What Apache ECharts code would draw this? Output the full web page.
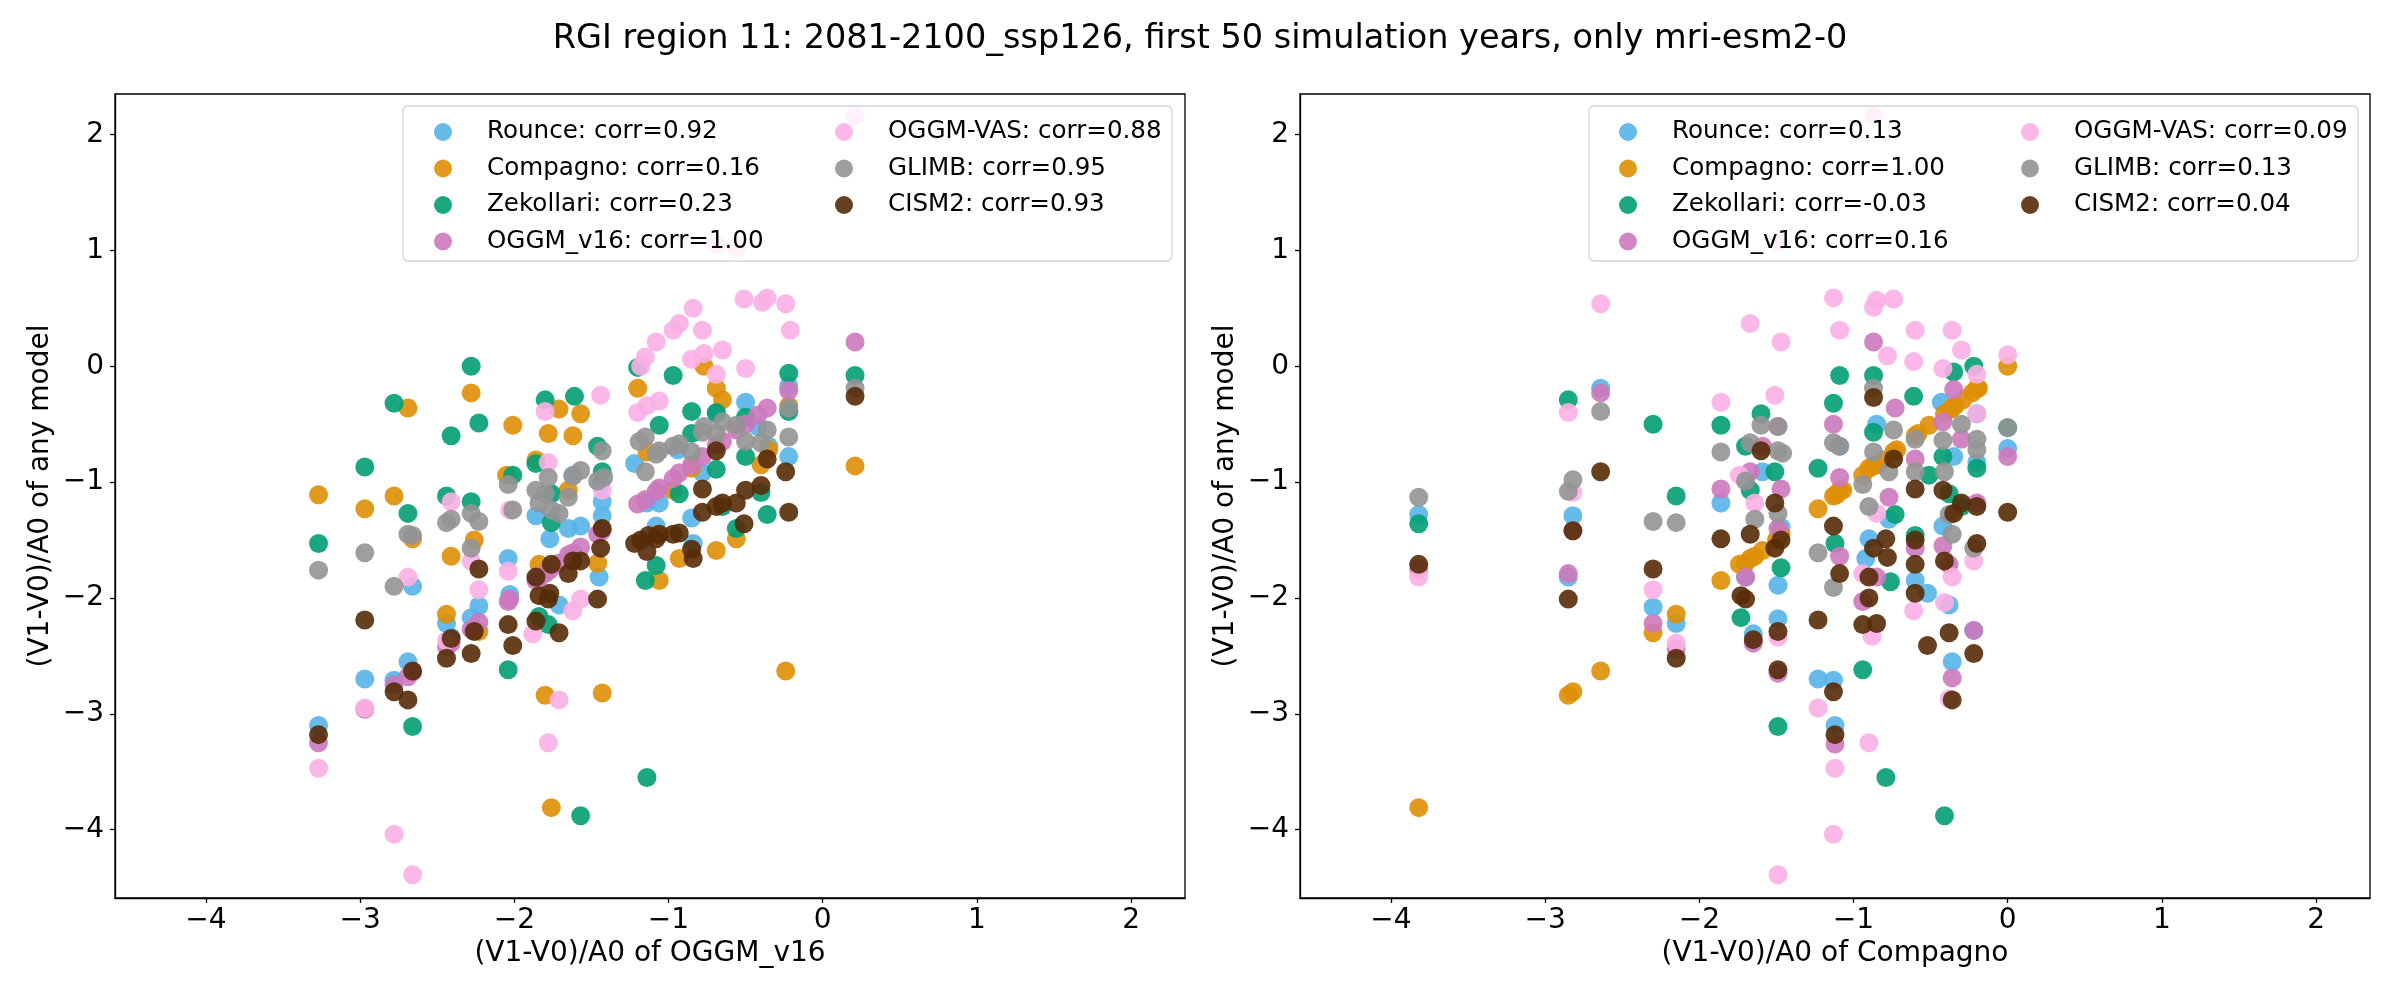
<!DOCTYPE html>
<html>
<head>
<meta charset="utf-8">
<title>RGI region 11</title>
<script src="https://cdn.jsdelivr.net/npm/echarts@6/dist/echarts.min.js"></script>
<style>
  html, body { margin: 0; padding: 0; background: #fff; }
  #chart { width: 2400px; height: 1000px; }
</style>
</head>
<body>
<div id="chart"></div>
<script>
// model names, colours and legend labels (left = vs OGGM_v16, right = vs Compagno)
var models = ["Rounce", "Compagno", "Zekollari", "OGGM_v16", "OGGM-VAS", "GLIMB", "CISM2"];
var colors = ["#56b4e9", "#de8f05", "#029e73", "#cc78bc", "#fbafe4", "#949494", "#562b08"];
var corrLeft = ["0.92", "0.16", "0.23", "1.00", "0.88", "0.95", "0.93"];
var corrRight = ["0.13", "1.00", "-0.03", "0.16", "0.09", "0.13", "0.04"];
var tickValues = [-4, -3, -2, -1, 0, 1, 2];

// left panel: x = (V1-V0)/A0 of OGGM_v16
var leftRounce = [[-3.27,-3.10],[-2.97,-2.70],[-2.78,-2.71],[-2.69,-2.55],[-2.66,-1.90],[-2.44,-2.22],[-2.41,-2.34],
  [-2.28,-2.17],[-2.23,-2.07],[-2.04,-1.66],[-2.03,-1.97],[-1.86,-1.29],[-1.77,-1.49],[-1.71,-2.06],[-1.65,-1.40],
  [-1.62,-0.94],[-1.57,-1.38],[-1.44,-1.02],[-1.43,-1.17],[-1.43,-1.29],[-1.45,-1.82],[-1.22,-0.84],[-1.14,-1.18],
  [-1.08,-1.38],[-1.06,-1.18],[-0.94,-0.72],[-0.85,-1.31],[-0.84,-1.53],[-0.78,-0.92],[-0.69,-0.41],[-0.50,-0.31],
  [-0.42,-0.52],[-0.35,-0.69],[-0.22,-0.17],[-0.22,-0.78]];
var leftCompagno = [[-3.27,-1.11],[-2.97,-1.23],[-2.78,-1.12],[-2.69,-0.36],[-2.66,-1.49],[-2.44,-2.14],[-2.41,-1.64],
  [-2.28,-0.23],[-2.26,-1.50],[-2.23,-2.29],[-2.01,-0.51],[-2.05,-0.94],[-1.86,-0.81],[-1.84,-1.71],[-1.80,-2.84],
  [-1.78,-0.58],[-1.76,-3.81],[-1.71,-0.37],[-1.65,-1.07],[-1.62,-0.60],[-1.57,-0.41],[-1.46,-1.70],[-1.43,-2.82],
  [-1.20,-0.19],[-1.14,-0.74],[-1.07,-1.45],[-1.06,-1.85],[-0.93,-1.66],[-0.97,-1.07],[-0.85,-0.88],[-0.77,0.00],
  [-0.69,-0.19],[-0.65,-0.29],[-0.69,-1.59],[-0.56,-1.49],[-0.40,-0.85],[-0.35,-0.72],[-0.22,-0.34],[-0.24,-2.63],
  [0.21,-0.86]];
var leftZekollari = [[-3.27,-1.53],[-2.97,-0.87],[-2.78,-0.32],[-2.69,-1.27],[-2.66,-3.11],[-2.44,-1.12],[-2.41,-0.60],
  [-2.28,0.00],[-2.28,-1.17],[-2.23,-0.49],[-2.04,-2.62],[-2.01,-0.94],[-1.86,-0.84],[-1.84,-2.16],[-1.80,-0.29],
  [-1.78,-2.23],[-1.76,-1.35],[-1.76,-1.10],[-1.61,-0.26],[-1.57,-3.88],[-1.46,-0.69],[-1.43,-0.91],[-1.20,-0.01],
  [-1.15,-1.85],[-1.14,-3.55],[-1.08,-1.72],[-1.06,-0.51],[-0.97,-0.08],[-0.93,-1.10],[-0.85,-0.39],[-0.85,-0.58],
  [-0.69,-0.40],[-0.69,-0.89],[-0.65,-1.21],[-0.56,-1.40],[-0.50,-0.44],[-0.50,-0.78],[-0.40,-1.09],[-0.36,-1.28],
  [-0.22,-0.06],[-0.22,-0.39],[0.21,-0.08]];
var leftOggm = [[-3.27,-3.25],[-2.97,-2.96],[-2.78,-2.75],[-2.69,-2.68],[-2.66,-2.64],[-2.44,-2.42],[-2.41,-2.39],
  [-2.28,-2.27],[-2.23,-2.21],[-2.04,-2.03],[-2.03,-2.01],[-1.86,-1.85],[-1.84,-1.83],[-1.80,-1.79],[-1.77,-1.76],
  [-1.71,-1.70],[-1.65,-1.63],[-1.62,-1.61],[-1.57,-1.56],[-1.46,-1.45],[-1.43,-1.42],[-1.20,-1.19],[-1.15,-1.15],
  [-1.08,-1.08],[-1.06,-1.05],[-0.97,-0.97],[-0.93,-0.92],[-0.85,-0.85],[-0.78,-0.78],[-0.69,-0.68],[-0.65,-0.65],
  [-0.56,-0.55],[-0.50,-0.50],[-0.42,-0.42],[-0.36,-0.36],[-0.22,-0.21],[0.21,0.21]];
var leftVas = [[-3.27,-3.47],[-2.97,-2.95],[-2.78,-4.04],[-2.69,-1.82],[-2.66,-4.39],[-2.44,-2.37],[-2.41,-1.17],
  [-2.28,-1.68],[-2.23,-1.93],[-2.04,-1.77],[-2.03,-1.24],[-1.88,-2.31],[-1.80,-0.39],[-1.78,-0.83],[-1.78,-3.25],
  [-1.71,-2.88],[-1.62,-2.11],[-1.57,-2.01],[-1.44,-0.25],[-1.43,-1.07],[-1.20,-0.40],[-1.14,-0.34],[-1.15,0.08],
  [-1.18,0.00],[-1.08,0.21],[-1.06,-0.30],[-0.97,0.31],[-0.93,0.37],[-0.84,0.50],[-0.85,0.06],[-0.78,0.31],
  [-0.77,0.11],[-0.69,-0.07],[-0.65,0.14],[-0.69,1.05],[-0.56,1.02],[-0.51,0.58],[-0.50,-0.02],[-0.39,0.55],
  [-0.36,0.59],[-0.24,0.54],[-0.21,0.31],[0.21,2.16]];
var leftGlimb = [[-3.27,-1.76],[-2.97,-1.61],[-2.78,-1.90],[-2.69,-1.45],[-2.66,-1.46],[-2.44,-1.35],[-2.41,-1.32],
  [-2.28,-1.27],[-2.28,-1.57],[-2.23,-1.34],[-2.04,-1.02],[-2.01,-1.24],[-1.86,-1.07],[-1.84,-1.18],[-1.80,-1.10],
  [-1.78,-0.96],[-1.76,-1.24],[-1.71,-1.27],[-1.65,-1.13],[-1.62,-0.95],[-1.57,-0.90],[-1.46,-0.99],[-1.43,-0.73],
  [-1.42,-0.96],[-1.19,-0.65],[-1.15,-0.91],[-1.15,-0.61],[-1.08,-0.76],[-1.06,-0.73],[-0.97,-0.69],[-0.93,-0.67],
  [-0.85,-0.74],[-0.78,-0.57],[-0.77,-0.52],[-0.69,-0.58],[-0.65,-0.48],[-0.56,-0.51],[-0.50,-0.65],[-0.40,-0.66],
  [-0.36,-0.55],[-0.22,-0.36],[-0.22,-0.61],[0.21,-0.19]];
var leftCism = [[-3.27,-3.18],[-2.97,-2.19],[-2.78,-2.81],[-2.69,-2.88],[-2.66,-2.63],[-2.44,-2.52],[-2.41,-2.35],
  [-2.28,-2.48],[-2.26,-2.29],[-2.23,-1.75],[-2.04,-2.23],[-2.01,-2.41],[-1.86,-1.82],[-1.84,-1.98],[-1.86,-2.20],
  [-1.78,-2.01],[-1.77,-1.96],[-1.76,-1.71],[-1.71,-2.30],[-1.65,-1.79],[-1.62,-1.68],[-1.57,-1.68],[-1.46,-2.01],
  [-1.44,-1.57],[-1.43,-1.40],[-1.22,-1.53],[-1.18,-1.50],[-1.14,-1.60],[-1.13,-1.46],[-1.08,-1.49],[-1.06,-1.45],
  [-0.97,-1.45],[-0.93,-1.44],[-0.85,-1.58],[-0.84,-1.66],[-0.78,-1.06],[-0.78,-1.26],[-0.69,-0.73],[-0.69,-1.21],
  [-0.65,-1.18],[-0.56,-1.18],[-0.51,-1.36],[-0.50,-1.07],[-0.40,-1.03],[-0.36,-0.80],[-0.24,-0.91],[-0.22,-1.26],
  [0.21,-0.26]];

// right panel: x = (V1-V0)/A0 of Compagno
var rightRounce = [[-3.82,-1.28],[-2.82,-1.29],[-2.85,-1.82],[-2.64,-0.19],[-2.30,-2.08],[-2.15,-2.22],[-1.86,-1.18],
  [-1.70,-1.82],[-1.65,-2.31],[-1.59,-0.91],[-1.49,-1.89],[-1.49,-2.18],[-1.47,-1.39],[-1.23,-2.70],[-1.13,-2.71],
  [-1.12,-3.10],[-1.09,-0.69],[-0.92,-1.66],[-0.90,-1.49],[-0.85,-0.50],[-0.77,-1.32],[-0.60,-1.85],[-0.52,-1.96],
  [-0.43,-0.31],[-0.38,-2.06],[-0.36,-2.55],[-0.35,-0.78],[-0.42,-1.38],[-0.22,-2.28],[-0.20,-0.41],[-0.20,-0.83],
  [0.00,-0.71]];
var rightCompagno = [[-3.82,-3.81],[-2.85,-2.84],[-2.82,-2.81],[-2.64,-2.63],[-2.30,-2.30],[-2.15,-2.14],[-1.86,-1.85],
  [-1.74,-1.71],[-1.70,-1.70],[-1.67,-1.66],[-1.64,-1.64],[-1.59,-1.59],[-1.50,-1.50],[-1.49,-1.49],[-1.47,-1.45],
  [-1.23,-1.23],[-1.13,-1.12],[-1.11,-1.11],[-1.09,-1.07],[-1.07,-1.07],[-0.94,-0.94],[-0.90,-0.88],[-0.87,-0.86],
  [-0.85,-0.85],[-0.81,-0.81],[-0.74,-0.74],[-0.72,-0.72],[-0.60,-0.60],[-0.58,-0.58],[-0.51,-0.51],[-0.41,-0.41],
  [-0.37,-0.37],[-0.36,-0.36],[-0.34,-0.34],[-0.29,-0.29],[-0.23,-0.23],[-0.20,-0.19],[-0.19,-0.19],[0.00,0.00]];
var rightZekollari = [[-3.82,-1.36],[-2.85,-0.29],[-2.30,-0.50],[-2.15,-1.12],[-1.86,-0.51],[-1.73,-2.17],[-1.70,-0.69],
  [-1.67,-1.07],[-1.60,-0.41],[-1.51,-0.91],[-1.49,-3.11],[-1.47,-1.74],[-1.23,-0.88],[-1.13,-0.32],[-1.12,-1.53],
  [-1.09,-0.08],[-0.94,-2.62],[-0.87,-0.08],[-0.87,-0.57],[-0.79,-3.55],[-0.76,-1.86],[-0.73,-1.28],[-0.61,-0.26],
  [-0.60,-1.46],[-0.51,-0.94],[-0.42,-0.78],[-0.41,-3.88],[-0.38,-1.10],[-0.35,-0.05],[-0.30,-1.21],[-0.22,0.00],
  [-0.20,-0.88],[0.00,-0.53]];
var rightOggm = [[-3.82,-1.75],[-2.85,-1.79],[-2.82,-1.42],[-2.64,-0.23],[-2.30,-2.22],[-2.15,-2.44],[-1.86,-1.06],
  [-1.70,-1.82],[-1.67,-0.91],[-1.59,-0.69],[-1.65,-2.39],[-1.49,-0.52],[-1.49,-1.40],[-1.47,-1.06],[-1.49,-2.65],
  [-1.12,-3.26],[-1.13,-0.50],[-1.09,-0.96],[-1.09,-1.64],[-0.94,-2.03],[-0.87,0.21],[-0.85,-1.82],[-0.77,-1.13],
  [-0.73,-0.36],[-0.60,-0.80],[-0.60,-1.57],[-0.42,-0.48],[-0.42,-1.55],[-0.38,-1.71],[-0.36,-2.69],[-0.35,-0.20],
  [-0.30,-0.63],[-0.22,-2.28],[-0.20,-1.18],[0.00,-0.78]];
var rightVas = [[-3.82,-1.82],[-2.85,-0.40],[-2.82,-1.09],[-2.64,0.54],[-2.30,-1.93],[-2.15,-2.39],[-1.86,-0.31],
  [-1.74,-0.94],[-1.67,0.37],[-1.64,-1.18],[-1.51,-0.25],[-1.47,0.21],[-1.49,-2.34],[-1.49,1.07],[-1.49,-4.39],
  [-1.23,-2.95],[-1.13,0.59],[-1.09,0.31],[-1.13,-4.04],[-1.12,-3.47],[-0.94,-1.79],[-0.90,-3.25],[-0.87,0.51],
  [-0.85,0.57],[-0.78,0.09],[-0.74,0.58],[-0.85,-1.27],[-0.60,0.31],[-0.61,0.04],[-0.61,-2.11],[-0.42,-0.02],
  [-0.41,-2.04],[-0.36,0.31],[-0.36,-1.82],[-0.38,-2.87],[-0.30,0.14],[-0.20,-0.07],[-0.20,-0.41],[-0.22,-1.68],
  [0.00,0.10],[-0.87,2.16],[-0.88,-2.33]];
var rightGlimb = [[-3.82,-1.13],[-2.85,-1.08],[-2.82,-0.98],[-2.64,-0.39],[-2.30,-1.34],[-2.15,-1.35],[-1.86,-0.74],
  [-1.70,-0.99],[-1.67,-0.66],[-1.64,-1.32],[-1.60,-0.51],[-1.49,-0.52],[-1.49,-0.73],[-1.46,-0.75],[-1.49,-1.27],
  [-1.23,-1.61],[-1.13,-0.66],[-1.09,-0.69],[-1.13,-1.91],[-0.94,-1.02],[-0.87,-0.19],[-0.87,-0.74],[-0.90,-1.21],
  [-0.77,-0.91],[-0.74,-0.55],[-0.60,-0.63],[-0.60,-0.91],[-0.41,-0.91],[-0.42,-0.64],[-0.36,-1.45],[-0.30,-0.50],
  [-0.38,-1.28],[-0.22,-1.57],[-0.20,-0.63],[-0.20,-0.72],[0.00,-0.53]];
var rightCism = [[-3.82,-1.71],[-2.85,-2.01],[-2.82,-1.42],[-2.64,-0.91],[-2.30,-1.75],[-2.15,-2.52],[-1.86,-1.49],
  [-1.73,-1.98],[-1.70,-2.01],[-1.67,-1.45],[-1.60,-0.73],[-1.65,-2.36],[-1.51,-1.18],[-1.51,-1.57],[-1.47,-1.50],
  [-1.49,-2.29],[-1.49,-2.62],[-1.23,-2.19],[-1.13,-1.38],[-1.13,-2.81],[-1.12,-3.18],[-1.09,-1.79],[-0.94,-2.23],
  [-0.90,-1.82],[-0.90,-2.00],[-0.87,-0.27],[-0.87,-1.57],[-0.85,-2.22],[-0.79,-1.49],[-0.78,-1.65],[-0.74,-0.80],
  [-0.60,-1.06],[-0.60,-1.50],[-0.60,-1.71],[-0.60,-1.96],[-0.52,-2.41],[-0.42,-1.07],[-0.41,-1.68],[-0.38,-2.30],
  [-0.36,-2.88],[-0.35,-1.27],[-0.30,-1.18],[-0.22,-2.48],[-0.20,-1.21],[-0.20,-1.53],[0.00,-1.26]];

var leftData = [leftRounce, leftCompagno, leftZekollari, leftOggm, leftVas, leftGlimb, leftCism];
var rightData = [rightRounce, rightCompagno, rightZekollari, rightOggm, rightVas, rightGlimb, rightCism];

var FONT = "DejaVu Sans";
var axisMin = -4.59, axisMax = 2.35;

function minusFmt(v) {
    return String(v).replace("-", "\u2212");
}

function makeAxis(idx, name, isX) {
    var ax = {
        type: "value",
        gridIndex: idx,
        min: axisMin,
        max: axisMax,
        name: name,
        nameLocation: "middle",
        nameGap: isX ? 42 : 60,
        nameTextStyle: { fontFamily: FONT, fontSize: 28, color: "#000" },
        axisLine: { show: true, onZero: false, lineStyle: { color: "#000", width: 1.3 } },
        axisTick: { show: true, length: 5, lineStyle: { color: "#000", width: 1.3 }, customValues: tickValues },
        axisLabel: { fontFamily: FONT, fontSize: 28, color: "#000", margin: isX ? 9 : 11,
                     customValues: tickValues, formatter: minusFmt },
        splitLine: { show: false }
    };
    return ax;
}

var series = [];
var legends = [];
var graphics = [];
[0, 1].forEach(function (p) {
    var data = p === 0 ? leftData : rightData;
    var corr = p === 0 ? corrLeft : corrRight;
    var names = [];
    for (var i = 0; i < models.length; i++) {
        var nm = models[i] + ": corr=" + corr[i];
        names.push(nm);
        series.push({
            type: "scatter",
            name: nm,
            xAxisIndex: p,
            yAxisIndex: p,
            symbolSize: 19,
            data: data[i],
            itemStyle: { color: colors[i], opacity: 0.9 },
            emphasis: { disabled: true },
            z: 2
        });
    }
    var boxLeft = p === 0 ? 403 : 1589;
    var col1 = p === 0 ? 429 : 1614;
    var col2 = p === 0 ? 830 : 2016;
    graphics.push({
        type: "rect",
        z: 3,
        shape: { x: boxLeft, y: 106, width: 769, height: 155, r: 5 },
        style: { fill: "rgba(255,255,255,0.8)", stroke: "#d4d4d4", lineWidth: 1.3 }
    });
    [[names.slice(0, 4), col1], [names.slice(4), col2]].forEach(function (c) {
        legends.push({
            data: c[0],
            orient: "vertical",
            left: c[1],
            top: 114,
            icon: "circle",
            itemWidth: 18,
            itemHeight: 18,
            itemGap: 10.5,
            selectedMode: false,
            z: 4,
            textStyle: { fontFamily: FONT, fontSize: 24.6, color: "#000", lineHeight: 26,
                         padding: [0, 0, 0, 30] }
        });
    });
});

var chart = echarts.init(document.getElementById("chart"));
chart.setOption({
    animation: false,
    backgroundColor: "#fff",
    title: {
        text: "RGI region 11: 2081-2100_ssp126, first 50 simulation years, only mri-esm2-0",
        left: "center",
        top: 17,
        textStyle: { fontFamily: FONT, fontSize: 33.5, fontWeight: "normal", color: "#000" }
    },
    grid: [
        { left: 115, top: 94, width: 1070, height: 804, show: true, borderColor: "#000", borderWidth: 1.3 },
        { left: 1300, top: 94, width: 1070, height: 804, show: true, borderColor: "#000", borderWidth: 1.3 }
    ],
    xAxis: [makeAxis(0, "(V1-V0)/A0 of OGGM_v16", true), makeAxis(1, "(V1-V0)/A0 of Compagno", true)],
    yAxis: [makeAxis(0, "(V1-V0)/A0 of any model", false), makeAxis(1, "(V1-V0)/A0 of any model", false)],
    legend: legends,
    graphic: graphics,
    series: series
});
</script>
</body>
</html>
